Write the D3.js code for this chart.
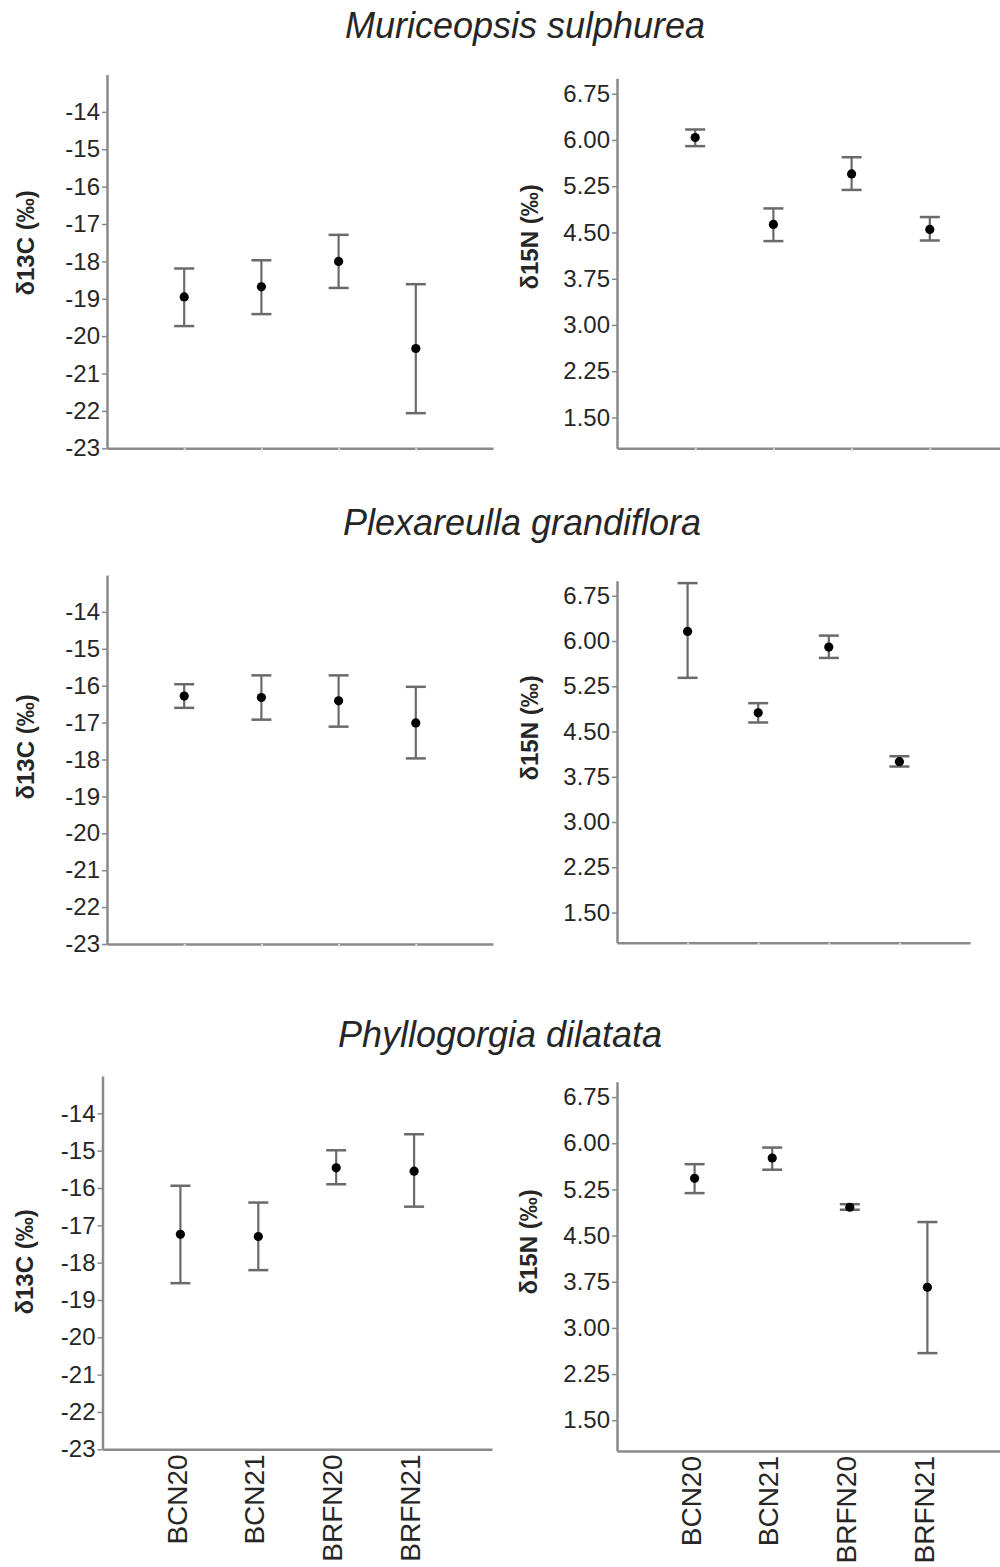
<!DOCTYPE html>
<html>
<head>
<meta charset="utf-8">
<script src="https://cdn.jsdelivr.net/npm/d3@7"></script>
<style>
  body { margin: 0; background: #fff; }
  svg { display: block; font-family: "Liberation Sans", Arial, sans-serif; }
</style>
</head>
<body>
<svg id="chart" width="1000" height="1567"></svg>
<script>
// sampling groups and species
const groups = ["BCN20", "BCN21", "BRFN20", "BRFN21"];
const species = ["Muriceopsis sulphurea", "Plexareulla grandiflora", "Phyllogorgia dilatata"];

// d13C mean and error bar ends, one row per species
const c13Mean  = [[-18.95, -18.68, -18.00, -20.33], [-16.28, -16.32, -16.41, -17.01], [-17.24, -17.30, -15.46, -15.55]];
const c13Upper = [[-18.19, -17.97, -17.29, -18.61], [-15.96, -15.72, -15.72, -16.03], [-15.94, -16.39, -14.99, -14.56]];
const c13Lower = [[-19.73, -19.41, -18.71, -22.06], [-16.60, -16.92, -17.11, -17.97], [-18.55, -18.20, -15.90, -16.50]];

// d15N mean and error bar ends
const n15Mean  = [[6.04, 4.63, 5.45, 4.55], [6.16, 4.81, 5.90, 4.00], [5.43, 5.76, 4.96, 3.66]];
const n15Upper = [[6.17, 4.89, 5.72, 4.75], [6.96, 4.97, 6.09, 4.09], [5.66, 5.93, 5.01, 4.72]];
const n15Lower = [[5.90, 4.36, 5.19, 4.37], [5.39, 4.65, 5.72, 3.92], [5.19, 5.57, 4.92, 2.59]];

const c13Ticks = [-14, -15, -16, -17, -18, -19, -20, -21, -22, -23];
const n15Ticks = [1.50, 2.25, 3.00, 3.75, 4.50, 5.25, 6.00, 6.75];
const c13Domain = [-23, -13];
const n15Domain = [1, 7];

// panel geometry (pixels)
const titles = [
  { x: 525, y: 38 },
  { x: 522, y: 535 },
  { x: 500, y: 1047 }
];
const panels = [
  [ { x0: 107, x1: 493, top: 74.5, bottom: 448.3, lx: 26, ly: 243 },
    { x0: 617, x1: 1008, top: 78.3, bottom: 448.3, lx: 530, ly: 237 } ],
  [ { x0: 107, x1: 493, top: 575, bottom: 944, lx: 26, ly: 747 },
    { x0: 617, x1: 970, top: 580.7, bottom: 942.7, lx: 530, ly: 728 } ],
  [ { x0: 102.5, x1: 492, top: 1076, bottom: 1449.3, lx: 25, ly: 1262 },
    { x0: 617, x1: 1005, top: 1081.7, bottom: 1451, lx: 529, ly: 1242 } ]
];

const fontFamily = "Liberation Sans, Arial, sans-serif";
const axisColor = "#8a8a8a";
const barColor = "#6a6a6a";
const textColor = "#262626";

const svg = d3.select("#chart");
svg.append("rect").attr("width", 1000).attr("height", 1567).attr("fill", "#fff");

function drawPanel(p, isBottom, domain, ticks, fmt, label, mean, lower, upper) {
  const g = svg.append("g");

  const x = d3.scalePoint().domain(groups).range([p.x0, p.x1]).padding(1);
  const y = d3.scaleLinear().domain(domain).range([p.bottom, p.top]);

  // y axis
  const ya = g.append("g")
    .attr("transform", "translate(" + p.x0 + ",0)")
    .call(d3.axisLeft(y).tickValues(ticks).tickFormat(fmt).tickSize(5).tickSizeOuter(0).tickPadding(2))
    .attr("font-family", fontFamily)
    .attr("font-size", 24);
  ya.select(".domain").attr("stroke", axisColor).attr("stroke-width", 2.5);
  ya.selectAll(".tick line").attr("stroke", axisColor).attr("stroke-width", 1.5);
  ya.selectAll(".tick text").attr("fill", textColor);

  // x axis
  const xa = g.append("g")
    .attr("transform", "translate(0," + p.bottom + ")")
    .call(d3.axisBottom(x).tickSize(isBottom ? 0 : 3).tickSizeOuter(0))
    .attr("font-family", fontFamily)
    .attr("font-size", 28);
  xa.select(".domain").attr("stroke", axisColor).attr("stroke-width", 2.5);
  xa.selectAll(".tick line").attr("stroke", "#e2e2e2").attr("stroke-width", 2);
  if (isBottom) {
    xa.selectAll(".tick text")
      .attr("transform", "rotate(-90)")
      .attr("x", -5)
      .attr("y", 0)
      .attr("dy", "0.2em")
      .style("text-anchor", "end")
      .attr("fill", textColor);
  } else {
    xa.selectAll(".tick text").remove();
  }

  // y axis title
  g.append("text")
    .attr("transform", "translate(" + p.lx + "," + p.ly + ") rotate(-90)")
    .attr("dy", "0.35em")
    .attr("text-anchor", "middle")
    .attr("font-family", fontFamily)
    .attr("font-size", 24)
    .attr("font-weight", "bold")
    .attr("fill", textColor)
    .text(label);

  // error bars
  const rows = groups.map((d, i) => ({ group: d, mean: mean[i], lo: lower[i], hi: upper[i] }));
  const bars = g.append("g").selectAll("g").data(rows).join("g");
  bars.append("line")
    .attr("x1", d => x(d.group)).attr("x2", d => x(d.group))
    .attr("y1", d => y(d.lo)).attr("y2", d => y(d.hi))
    .attr("stroke", barColor).attr("stroke-width", 2.2);
  bars.append("line")
    .attr("x1", d => x(d.group) - 10).attr("x2", d => x(d.group) + 10)
    .attr("y1", d => y(d.hi)).attr("y2", d => y(d.hi))
    .attr("stroke", barColor).attr("stroke-width", 2.5);
  bars.append("line")
    .attr("x1", d => x(d.group) - 10).attr("x2", d => x(d.group) + 10)
    .attr("y1", d => y(d.lo)).attr("y2", d => y(d.lo))
    .attr("stroke", barColor).attr("stroke-width", 2.5);
  bars.append("circle")
    .attr("cx", d => x(d.group))
    .attr("cy", d => y(d.mean))
    .attr("r", 4.6)
    .attr("fill", "#000");
}

species.forEach((name, s) => {
  svg.append("text")
    .attr("x", titles[s].x)
    .attr("y", titles[s].y)
    .attr("text-anchor", "middle")
    .attr("font-family", fontFamily)
    .attr("font-size", 36)
    .attr("font-style", "italic")
    .attr("fill", textColor)
    .text(name);

  const isBottom = s === species.length - 1;
  // plain hyphen for negatives, as in the original figure
  drawPanel(panels[s][0], isBottom, c13Domain, c13Ticks, d => String(d), "δ13C (‰)",
    c13Mean[s], c13Lower[s], c13Upper[s]);
  drawPanel(panels[s][1], isBottom, n15Domain, n15Ticks, d => d.toFixed(2), "δ15N (‰)",
    n15Mean[s], n15Lower[s], n15Upper[s]);
});
</script>
</body>
</html>
